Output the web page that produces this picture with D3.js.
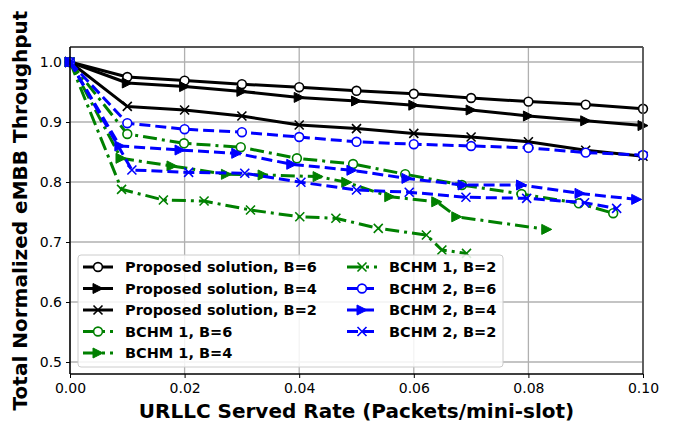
<!DOCTYPE html>
<html><head><meta charset="utf-8">
<script src="https://cdn.jsdelivr.net/npm/d3@7"></script>
<style>body{margin:0;background:#fff}svg{display:block}</style>
</head><body>
<script>
// ---- data ----
const gridX = [0, 0.01, 0.02, 0.03, 0.04, 0.05, 0.06, 0.07, 0.08, 0.09, 0.10];
const propB6Y = [1.0, 0.975, 0.969, 0.963, 0.958, 0.952, 0.947, 0.940, 0.934, 0.929, 0.922];
const propB4Y = [1.0, 0.965, 0.959, 0.951, 0.941, 0.935, 0.928, 0.920, 0.910, 0.902, 0.894];
const propB2Y = [1.0, 0.926, 0.920, 0.910, 0.895, 0.889, 0.881, 0.875, 0.867, 0.853, 0.843];
const bchm1B6X = [0, 0.0100, 0.0199, 0.0298, 0.0396, 0.0494, 0.0585, 0.0684, 0.0788, 0.0888, 0.0948];
const bchm1B6Y = [1.0, 0.880, 0.8645, 0.858, 0.8395, 0.830, 0.813, 0.795, 0.780, 0.7645, 0.748];
const bchm1B4X = [0, 0.0089, 0.0178, 0.0273, 0.0337, 0.0433, 0.0483, 0.0558, 0.0640, 0.0675, 0.0832];
const bchm1B4Y = [1.0, 0.8395, 0.8267, 0.8128, 0.8117, 0.809, 0.7995, 0.7755, 0.767, 0.742, 0.721];
const bchm1B2X = [0, 0.0090, 0.0163, 0.0234, 0.0315, 0.0401, 0.0464, 0.0538, 0.0622, 0.0649, 0.0692];
const bchm1B2Y = [1.0, 0.7878, 0.770, 0.7683, 0.7533, 0.742, 0.7395, 0.7228, 0.7117, 0.6867, 0.681];
const bchm2B6Y = [1.0, 0.898, 0.888, 0.883, 0.875, 0.867, 0.863, 0.860, 0.857, 0.849, 0.845];
const bchm2B4X = [0, 0.0087, 0.0192, 0.0291, 0.0387, 0.0492, 0.0588, 0.0686, 0.0788, 0.0890, 0.0989];
const bchm2B4Y = [1.0, 0.860, 0.8533, 0.8478, 0.8295, 0.8195, 0.806, 0.795, 0.795, 0.781, 0.771];
const bchm2B2X = [0, 0.0108, 0.0207, 0.0305, 0.0403, 0.0500, 0.0592, 0.0691, 0.0797, 0.0898, 0.0954];
const bchm2B2Y = [1.0, 0.820, 0.816, 0.8145, 0.7995, 0.7867, 0.783, 0.7745, 0.7728, 0.7655, 0.756];
const xTicks = [0, 0.02, 0.04, 0.06, 0.08, 0.10];
const yTicks = [0.5, 0.6, 0.7, 0.8, 0.9, 1.0];
const seriesNames = ["Proposed solution, B=6","Proposed solution, B=4","Proposed solution, B=2",
  "BCHM 1, B=6","BCHM 1, B=4","BCHM 1, B=2","BCHM 2, B=6","BCHM 2, B=4","BCHM 2, B=2"];

const zip = (xs, ys) => xs.map((x, i) => [x, ys[i]]);
const series = [
  {name: seriesNames[0], pts: zip(gridX, propB6Y), color: "#000", dash: null, marker: "o"},
  {name: seriesNames[1], pts: zip(gridX, propB4Y), color: "#000", dash: null, marker: ">"},
  {name: seriesNames[2], pts: zip(gridX, propB2Y), color: "#000", dash: null, marker: "x"},
  {name: seriesNames[3], pts: zip(bchm1B6X, bchm1B6Y), color: "#008000", dash: "14,5,3,5", marker: "o"},
  {name: seriesNames[4], pts: zip(bchm1B4X, bchm1B4Y), color: "#008000", dash: "14,5,3,5", marker: ">"},
  {name: seriesNames[5], pts: zip(bchm1B2X, bchm1B2Y), color: "#008000", dash: "14,5,3,5", marker: "x"},
  {name: seriesNames[6], pts: zip(gridX, bchm2B6Y), color: "#0000ff", dash: "11,5", marker: "o"},
  {name: seriesNames[7], pts: zip(bchm2B4X, bchm2B4Y), color: "#0000ff", dash: "11,5", marker: ">"},
  {name: seriesNames[8], pts: zip(bchm2B2X, bchm2B2Y), color: "#0000ff", dash: "11,5", marker: "x"}
];

const W = 673, H = 424;
const L = 70, R = 643, T = 47, B = 374;
const svg = d3.select("body").append("svg").attr("width", W).attr("height", H)
  .style("font-family", "'DejaVu Sans', sans-serif");

const x = d3.scaleLinear().domain([0, 0.1]).range([L, R]);
const y = d3.scaleLinear().domain([0.48, 1.025]).range([B, T]);

// grid
const g = svg.append("g");
g.selectAll(".gx").data(xTicks).join("line")
  .attr("x1", d => x(d)).attr("x2", d => x(d)).attr("y1", T).attr("y2", B)
  .attr("stroke", "#b0b0b0").attr("stroke-width", 1.3);
g.selectAll(".gy").data(yTicks).join("line")
  .attr("y1", d => y(d)).attr("y2", d => y(d)).attr("x1", L).attr("x2", R)
  .attr("stroke", "#b0b0b0").attr("stroke-width", 1.3);

// axes
const xAxis = svg.append("g").attr("transform", `translate(0,${B})`)
  .call(d3.axisBottom(x).tickValues(xTicks).tickFormat(d3.format(".2f")).tickSize(4).tickPadding(5));
const yAxis = svg.append("g").attr("transform", `translate(${L},0)`)
  .call(d3.axisLeft(y).tickValues(yTicks).tickFormat(d3.format(".1f")).tickSize(4).tickPadding(4));
[xAxis, yAxis].forEach(a => {
  a.select(".domain").remove();
  a.selectAll("text").attr("font-size", 14).attr("fill", "#000").style("font-family", "'DejaVu Sans', sans-serif");
  a.selectAll("line").attr("stroke", "#000").attr("stroke-width", 1);
});

// series
const line = d3.line().x(d => x(d[0])).y(d => y(d[1]));
const plot = svg.append("g");
function drawMarker(sel, m, color) {
  if (m === "o") {
    sel.append("circle").attr("r", 4.4).attr("fill", "#fff").attr("stroke", color).attr("stroke-width", 1.6);
  } else if (m === ">") {
    sel.append("path").attr("d", "M5,0 L-5,-5 L-5,5 Z").attr("fill", color).attr("stroke", color).attr("stroke-width", 1);
  } else {
    sel.append("path").attr("d", "M-4.5,-4.5 L4.5,4.5 M-4.5,4.5 L4.5,-4.5").attr("fill", "none").attr("stroke", color).attr("stroke-width", 1.6);
  }
}
series.forEach(s => {
  const gg = plot.append("g");
  gg.append("path").datum(s.pts).attr("d", line).attr("fill", "none")
    .attr("stroke", s.color).attr("stroke-width", 3)
    .attr("stroke-dasharray", s.dash).attr("stroke-linejoin", "round");
  gg.selectAll("g.m").data(s.pts).join("g").attr("class", "m")
    .attr("transform", d => `translate(${x(d[0])},${y(d[1])})`)
    .each(function() { drawMarker(d3.select(this), s.marker, s.color); });
});

// frame
svg.append("line").attr("x1", L).attr("x2", R).attr("y1", T).attr("y2", T).attr("stroke", "#555").attr("stroke-width", 1.8);
svg.append("line").attr("x1", R).attr("x2", R).attr("y1", T).attr("y2", B).attr("stroke", "#555").attr("stroke-width", 1.8);
svg.append("line").attr("x1", L).attr("x2", R).attr("y1", B).attr("y2", B).attr("stroke", "#000").attr("stroke-width", 1.5);
svg.append("line").attr("x1", L).attr("x2", L).attr("y1", T).attr("y2", B).attr("stroke", "#000").attr("stroke-width", 1.5);

// legend
const lg = svg.append("g");
lg.append("rect").attr("x", 78).attr("y", 255).attr("width", 425).attr("height", 112)
  .attr("rx", 3).attr("fill", "#fff").attr("fill-opacity", 0.85).attr("stroke", "#ccc").attr("stroke-width", 1);
series.forEach((s, i) => {
  const col = i < 5 ? 0 : 1;
  const row = i < 5 ? i : i - 5;
  const hx = col === 0 ? 83 : 347;
  const tx = col === 0 ? 125 : 389;
  const cy = 267 + row * 21.5;
  const it = lg.append("g");
  it.append("line").attr("x1", hx).attr("x2", hx + 30).attr("y1", cy).attr("y2", cy)
    .attr("stroke", s.color).attr("stroke-width", 3).attr("stroke-dasharray", s.dash);
  drawMarker(it.append("g").attr("transform", `translate(${hx + 15},${cy})`), s.marker, s.color);
  it.append("text").attr("x", tx).attr("y", cy).attr("dy", "0.36em")
    .attr("font-size", 14.5).attr("font-weight", "bold").attr("fill", "#000").text(s.name);
});

// axis labels
svg.append("text").attr("x", (L + R) / 2).attr("y", 418).attr("text-anchor", "middle")
  .attr("font-size", 20).attr("font-weight", "bold").text("URLLC Served Rate (Packets/mini-slot)");
svg.append("text").attr("transform", `translate(27,${(T + B) / 2}) rotate(-90)`).attr("text-anchor", "middle")
  .attr("font-size", 20).attr("font-weight", "bold").text("Total Normalized eMBB Throughput");
</script>
</body></html>
